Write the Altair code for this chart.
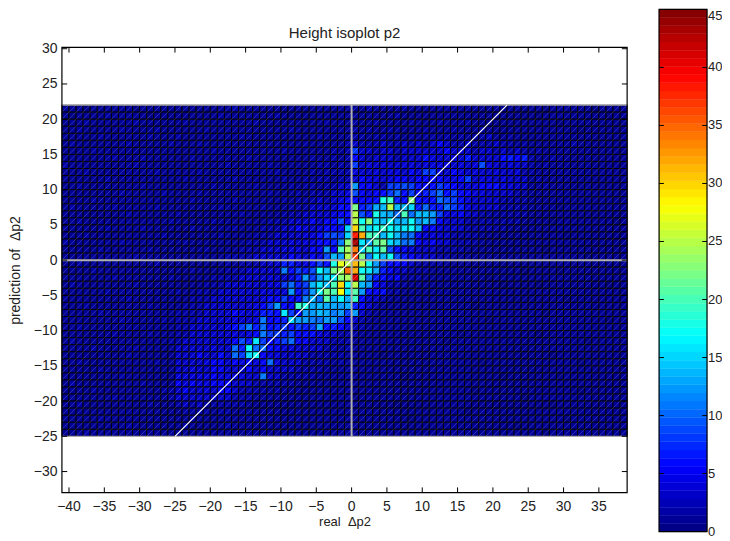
import altair as alt
import pandas as pd
import numpy as np

alt.data_transformers.disable_max_rows()

X_START = -41
Y_TOP = 22
# Cell counts: one row per unit, top (21..22) to bottom (-25..-24),
# one column per unit, from x=-41 to x=38.
VALUES = [
[1,1,1,0,1,1,1,1,1,1,0,1,1,1,1,1, 1,1,1,1,1,1,1,1,2,1,1,1,1,1,1,1,1,1,1,1,1,1,1,1,1, 1,1,2,1,1,1,1,2,1,1,1,1,1,1,1,1,1,1,1,1,1,1,1,1,1, 1,1,0,1,1,1,1,1,1,0,1,1,1,1],
[1,0,1,1,1,1,2,1,1,1,1,1,0,1,1,1, 1,1,1,1,1,1,2,1,1,1,1,1,1,1,2,1,1,1,1,1,1,1,1,1,1, 1,1,1,1,1,1,2,1,1,1,1,1,1,1,1,1,1,1,1,1,1,1,1,1,1, 1,0,1,1,1,1,1,1,1,1,1,0,1,1],
[1,1,1,2,1,1,1,1,1,1,2,1,1,1,1,1, 1,2,1,1,1,1,1,1,1,1,1,2,1,1,1,1,1,1,1,1,1,2,1,1,1, 2,1,1,2,1,1,1,1,2,1,1,1,2,1,1,1,2,1,1,1,1,1,1,1,1, 1,1,1,1,0,1,1,1,1,1,1,1,1,1],
[1,1,2,1,1,1,1,1,2,1,1,1,1,2,1,1, 1,1,1,1,2,1,1,1,1,1,1,1,1,1,1,1,2,1,1,1,1,1,1,1,1, 2,1,2,1,1,2,1,1,1,1,2,1,1,1,2,1,1,1,2,1,1,1,1,1,1, 1,1,1,1,1,1,1,0,1,1,1,1,1,1],
[1,1,1,1,1,2,1,1,1,1,1,1,2,1,1,1, 2,1,1,1,1,1,1,1,1,2,1,1,1,1,1,1,1,1,1,1,2,1,1,1,1, 2,2,1,2,2,1,2,1,2,1,2,2,1,2,1,2,1,2,2,3,1,1,2,1,1, 1,1,1,1,1,1,1,1,1,1,1,1,1,1],
[1,2,1,1,1,1,1,1,1,2,1,1,1,1,1,2, 1,1,1,2,1,1,1,1,1,1,1,1,1,1,1,1,1,1,2,1,1,1,1,1,2, 3,2,2,2,3,2,2,3,2,3,2,3,5,3,2,2,3,2,2,2,3,2,2,1,2, 1,1,1,1,1,1,2,1,1,1,1,1,1,1],
[1,1,1,1,2,1,1,1,1,1,1,1,1,1,1,1, 1,1,1,1,1,2,1,1,1,1,1,1,1,1,1,2,1,1,1,1,1,1,2,1,2, 8,3,3,2,3,3,2,3,3,3,3,3,3,5,3,3,3,2,3,3,2,3,2,3,2, 1,2,1,1,1,1,1,1,1,1,1,1,1,1],
[1,1,1,1,1,1,1,2,1,1,1,2,1,1,1,1, 1,1,2,1,1,1,1,1,1,1,2,1,1,1,1,1,1,1,1,2,1,1,2,1,2, 5,3,2,3,3,3,2,3,3,3,6,4,3,3,4,3,7,3,3,3,3,6,7,5,7, 2,1,1,2,1,1,1,1,1,1,1,1,1,1],
[2,1,1,1,1,1,1,1,1,1,2,1,1,1,1,1, 1,1,1,1,1,1,1,2,1,1,1,1,1,2,1,1,1,1,1,1,2,2,1,2,1, 8,3,4,3,4,3,3,4,4,3,4,4,4,4,3,4,3,4,9,4,3,3,4,3,3, 2,1,2,1,1,1,1,1,1,1,1,1,1,1],
[1,1,1,2,1,1,1,1,1,1,1,1,1,2,1,1, 1,1,1,2,1,1,1,1,1,1,1,1,1,1,2,1,1,1,1,2,1,2,2,2,2, 4,3,3,4,3,4,4,3,5,4,8,8,4,3,5,4,3,4,3,3,4,3,3,4,2, 2,1,1,1,1,1,1,1,1,1,1,1,1,1],
[1,1,1,1,1,1,2,1,1,1,1,1,1,1,1,1, 1,2,1,1,1,1,1,1,2,1,1,1,1,1,1,2,1,1,2,1,2,2,1,2,2, 3,5,4,4,3,4,5,5,4,5,5,6,5,4,4,5,8,3,4,4,3,4,3,3,3, 1,2,1,1,1,1,1,1,1,1,1,1,1,1],
[1,1,2,1,1,1,1,1,1,1,1,2,1,1,1,1, 1,1,1,1,1,2,1,1,1,1,1,2,1,1,1,1,2,1,2,2,1,2,2,3,3, 12,5,5,3,2,8,8,9,8,6,5,6,8,7,5,4,4,4,5,5,6,4,4,3,3, 1,1,2,1,1,1,1,1,1,1,1,1,1,1],
[1,1,1,1,1,1,1,1,2,1,1,1,1,1,2,1, 1,1,1,2,1,1,1,1,1,1,1,1,1,2,1,1,1,2,1,2,2,2,3,3,4, 9,5,4,5,6,8,10,6,8,6,7,8,10,6,8,5,5,4,4,3,3,3,3,2,2, 1,1,1,1,1,1,1,1,1,1,1,1,1,1],
[1,1,1,1,2,1,1,1,1,1,1,1,1,1,1,1, 1,1,2,1,1,1,1,1,2,1,1,1,1,1,1,2,1,2,2,2,3,2,3,4,5, 5,5,5,6,18,19,7,6,23,6,5,6,10,9,8,6,4,3,3,3,3,2,2,2,2, 1,1,1,1,1,1,1,1,1,1,1,1,1,1],
[1,2,1,1,1,1,1,2,1,1,1,1,1,2,1,1, 1,1,1,1,1,1,2,1,1,1,1,1,2,1,1,1,2,2,2,3,3,3,3,6,5, 22,7,8,13,14,25,14,14,15,7,10,7,7,10,8,7,4,3,3,3,3,2,2,2,2, 1,1,1,1,0,1,1,1,1,1,1,1,1,1],
[1,1,1,1,1,1,1,1,1,2,1,1,1,1,1,1, 2,1,1,1,1,1,1,1,1,2,1,1,1,1,1,2,2,2,3,3,3,3,4,5,6, 25,9,7,18,14,13,10,20,10,14,14,12,8,4,4,5,3,3,2,2,2,2,2,2,2, 1,1,1,1,1,1,1,1,1,1,1,1,1,1],
[1,1,2,1,1,1,1,1,1,1,1,1,1,1,1,2, 1,1,1,1,1,2,1,1,1,1,1,1,1,2,2,2,3,3,3,5,3,5,6,9,5, 25,17,23,15,14,17,13,14,17,12,14,11,5,3,3,3,2,2,2,2,2,2,2,2,1, 1,1,1,0,1,1,1,1,1,1,1,1,0,1],
[1,1,1,1,1,1,2,1,1,1,1,2,1,1,1,1, 1,1,2,1,1,1,1,1,2,1,1,1,2,2,2,3,3,5,4,3,4,6,5,6,15, 30,20,15,17,19,17,15,16,17,14,5,6,4,3,3,3,2,2,2,2,2,2,1,1,1, 1,1,1,1,1,1,1,1,1,1,1,1,1,1],
[1,1,1,2,1,1,1,1,1,1,1,1,1,1,2,1, 1,1,1,1,1,1,2,1,1,1,1,2,2,2,3,3,3,3,4,4,6,8,9,8,15, 38,32,20,19,14,17,14,11,10,5,4,4,3,3,2,2,2,2,1,1,1,1,1,1,1, 1,1,1,1,1,0,1,1,1,1,1,1,1,1],
[2,1,1,1,1,1,1,1,2,1,1,1,1,1,1,1, 1,2,1,1,1,1,1,1,1,1,2,2,2,3,3,3,4,3,4,4,6,6,7,11,23, 43,16,13,21,22,15,14,10,11,5,4,5,3,3,2,2,2,2,1,1,1,1,1,1,1, 1,1,1,1,1,1,1,1,1,1,1,1,1,1],
[1,1,1,1,1,2,1,1,1,1,1,1,2,1,1,1, 1,1,1,1,2,1,1,1,1,2,2,2,3,3,3,4,4,4,3,5,5,12,5,20,24, 34,15,20,16,21,9,6,5,4,3,3,3,2,2,2,2,1,1,1,1,1,1,1,1,1, 1,1,0,1,1,1,1,1,1,1,1,1,1,1],
[1,1,1,1,1,1,1,1,1,1,2,1,1,1,1,1, 1,1,1,1,1,1,1,2,2,2,2,3,3,3,3,3,5,4,3,5,4,9,14,12,25, 37,22,11,17,14,17,9,7,5,4,3,3,2,2,1,1,1,1,1,1,1,1,1,1,1, 1,1,1,1,1,1,1,1,0,1,1,1,1,1],
[1,1,2,1,1,1,1,1,1,1,1,1,1,2,1,1, 1,1,1,1,1,1,1,2,1,2,2,2,3,3,3,7,7,4,4,6,8,6,18,27,25, 31,25,17,12,8,6,6,5,3,2,2,2,2,1,1,1,1,1,1,1,1,1,1,1,1, 1,1,1,1,1,1,1,1,1,1,1,1,1,1],
[1,1,1,1,2,1,1,1,1,1,1,1,1,1,1,1, 1,1,2,1,1,1,1,2,2,2,3,3,3,3,3,11,6,8,7,9,17,14,22,24,35, 32,17,16,13,7,5,3,3,2,2,2,1,1,1,1,1,1,1,1,1,1,1,1,1,0, 1,1,1,1,0,1,1,1,1,1,1,1,1,1],
[1,1,1,1,1,1,1,2,1,1,1,1,1,1,1,2, 1,1,1,1,1,2,2,2,2,3,3,3,3,4,3,3,4,7,12,8,12,15,16,23,24, 41,21,11,7,6,4,5,2,2,2,1,1,1,1,1,1,1,1,1,0,1,1,1,1,1, 1,1,1,1,1,1,1,1,1,1,1,1,1,1],
[1,2,1,1,1,1,1,1,1,1,2,1,1,1,1,1, 1,1,1,1,2,2,2,3,3,3,3,3,3,4,4,8,10,7,8,14,16,14,20,30,17, 25,14,12,5,4,2,2,2,1,1,1,1,1,1,1,1,1,1,1,1,1,0,1,1,1, 1,0,1,1,1,1,1,1,1,1,1,0,1,1],
[1,1,1,1,1,1,2,1,1,1,1,1,1,1,1,1, 2,1,1,2,2,2,3,3,3,3,3,3,4,4,4,4,12,6,8,12,17,22,20,28,16, 21,12,6,5,6,2,2,1,1,1,1,1,1,1,1,1,1,1,1,1,1,1,1,1,1, 1,1,1,1,1,1,1,1,1,1,1,1,1,1],
[1,1,1,1,1,1,1,1,1,2,1,1,1,1,1,1, 1,1,2,2,2,3,3,3,3,3,3,3,4,6,5,8,5,6,11,14,10,21,14,17,13, 19,6,3,3,2,1,1,1,1,1,1,1,1,1,1,1,1,1,1,1,1,1,1,1,1, 1,1,1,1,1,0,1,1,1,1,1,1,1,1],
[1,1,1,2,1,1,1,1,1,1,1,1,2,1,1,1, 1,2,2,2,3,3,3,3,3,3,3,4,5,8,12,6,5,19,18,13,14,13,13,12,13, 7,5,3,2,1,1,1,1,1,1,1,1,1,1,1,1,1,0,1,1,1,1,1,1,1, 1,1,1,1,1,1,1,1,1,1,1,1,1,1],
[1,1,1,1,1,2,1,1,1,1,1,1,1,1,1,1, 2,2,2,2,3,3,3,3,5,4,3,4,7,7,6,16,8,6,12,12,14,13,11,12,8, 12,3,2,1,1,1,1,1,1,1,1,1,1,1,1,1,1,1,1,1,1,1,1,1,1, 1,1,0,1,1,1,1,1,1,1,1,1,1,1],
[1,1,1,1,1,1,1,1,2,1,1,1,1,1,2,1, 2,2,2,3,3,3,3,3,4,3,3,4,11,5,6,7,15,12,12,11,10,12,12,9,5, 3,2,1,1,1,1,1,1,1,1,1,1,1,1,1,1,1,1,1,0,1,1,1,1,1, 1,1,1,1,1,1,1,1,1,1,1,0,1,1],
[1,1,2,1,1,1,1,1,1,1,1,1,1,1,1,1, 2,2,3,3,3,3,3,4,6,8,11,7,10,6,7,8,6,8,7,8,13,6,7,5,3, 2,2,1,1,1,1,1,1,1,1,1,1,1,1,1,1,1,1,1,1,1,1,1,1,1, 1,1,1,1,1,1,1,1,1,1,1,1,1,1],
[1,1,1,1,1,1,1,2,1,1,1,1,2,1,1,1, 2,2,3,3,3,3,3,3,4,3,4,5,11,8,8,7,8,5,6,6,4,3,3,2,2, 2,1,1,1,1,1,1,1,1,1,1,1,1,1,1,0,1,1,1,1,1,1,1,1,1, 1,0,1,1,1,1,1,1,1,1,1,1,1,1],
[1,2,1,1,1,1,1,1,1,1,1,1,1,1,1,2, 2,3,3,3,3,3,3,3,5,9,7,16,8,6,7,8,10,5,5,3,3,3,2,2,2, 1,1,1,1,1,1,1,1,1,1,1,1,1,0,1,1,1,1,1,1,1,1,1,1,1, 1,1,1,1,1,1,1,1,0,1,1,1,1,1],
[1,1,1,1,2,1,1,1,1,1,2,1,1,1,1,1, 3,3,3,3,3,4,3,3,10,7,17,10,10,6,5,4,4,3,3,3,3,2,2,1,2, 1,1,1,1,1,1,1,1,1,1,1,1,1,1,1,1,1,1,1,1,1,1,1,1,1, 1,1,1,1,1,1,1,1,1,1,1,1,1,1],
[1,1,1,1,1,1,1,1,1,2,1,1,1,1,1,1, 3,3,3,5,3,3,6,3,10,8,15,17,5,4,4,3,3,3,3,2,2,2,2,2,1, 1,1,1,1,0,1,1,1,1,1,1,1,1,1,1,1,1,1,1,1,1,1,1,1,1, 1,1,1,0,1,1,1,1,1,1,1,1,1,1],
[1,1,2,1,1,1,1,1,1,1,1,1,1,2,1,1, 3,3,3,3,4,5,5,3,5,4,6,4,5,10,4,3,3,3,2,2,2,2,1,2,1, 1,1,1,1,1,1,1,1,1,1,1,1,1,1,1,1,1,1,0,1,1,1,1,1,1, 1,1,1,1,1,1,1,0,1,1,1,1,1,1],
[1,1,1,1,1,2,1,1,1,1,1,1,1,1,1,1, 3,3,4,3,3,5,5,3,3,3,5,3,5,3,3,3,3,2,2,2,2,1,1,1,1, 1,1,1,1,1,1,1,1,1,1,1,1,1,1,1,1,1,1,1,1,1,1,1,1,1, 1,1,1,1,1,1,1,1,1,1,1,1,1,1],
[1,1,1,1,1,1,1,1,2,1,1,1,1,1,1,1, 4,4,4,4,4,5,4,4,4,4,3,3,11,3,3,2,2,2,2,2,1,1,1,1,1, 1,1,1,1,1,1,1,0,1,1,1,1,1,1,1,1,1,1,1,1,1,0,1,1,1, 1,1,1,1,0,1,1,1,1,1,1,1,1,1],
[1,2,1,1,1,1,1,1,1,1,1,2,1,1,1,1, 5,4,5,4,4,5,5,5,3,3,3,2,2,2,2,2,2,1,1,1,1,1,1,1,1, 1,1,1,1,1,1,1,1,1,1,1,1,1,1,1,1,1,1,1,1,1,1,1,1,1, 1,1,1,1,1,1,1,1,1,1,1,1,1,1],
[1,1,1,1,2,1,1,1,1,1,1,1,1,1,2,2, 3,5,3,3,4,3,5,5,3,2,2,2,2,1,2,1,1,1,1,1,1,1,1,1,1, 1,1,1,1,1,1,1,1,1,1,1,1,1,1,1,1,1,0,1,1,1,1,1,1,1, 1,1,1,1,1,1,1,0,1,1,1,1,1,1],
[1,1,1,1,1,1,1,2,1,1,1,1,1,1,1,2, 3,3,3,3,3,3,3,3,2,2,2,1,1,1,1,1,1,1,1,1,1,1,1,1,1, 0,1,1,1,1,1,1,1,1,1,1,1,1,1,1,1,1,1,1,1,1,1,1,1,0, 1,1,1,1,1,1,1,1,1,1,1,1,1,1],
[1,1,2,1,1,1,1,1,1,1,1,1,2,1,1,1, 2,3,2,3,2,2,2,2,2,2,1,1,1,1,1,1,1,1,1,1,1,1,1,1,1, 1,1,1,1,1,1,0,1,1,1,1,1,1,1,1,1,1,1,1,1,1,1,1,1,1, 1,1,1,0,1,1,1,1,1,1,1,1,1,1],
[1,1,1,1,1,1,1,1,1,1,1,1,1,1,1,1, 1,2,2,2,2,1,2,2,1,1,1,1,1,1,1,1,1,1,1,1,1,1,1,1,1, 1,1,1,1,1,1,1,1,1,1,1,1,1,1,1,1,0,1,1,1,1,1,1,1,1, 1,1,1,1,1,1,1,1,1,1,1,1,1,1],
[1,1,1,1,1,2,1,1,1,1,1,1,1,1,1,1, 1,1,2,1,1,1,1,1,1,1,1,1,1,1,1,1,1,1,1,1,1,1,1,1,1, 1,1,1,1,1,1,1,1,0,1,1,1,1,1,1,1,1,1,1,1,1,1,1,1,1, 1,1,1,1,1,0,1,1,1,1,1,1,1,1],
[1,1,1,1,1,1,1,1,1,2,1,1,1,1,1,1, 1,2,1,1,1,1,1,2,1,1,1,1,1,1,1,1,1,1,1,1,1,1,1,1,1, 1,1,1,1,1,1,1,1,1,1,1,1,1,1,1,1,1,1,1,1,1,1,1,0,1, 1,1,1,1,1,1,1,1,1,1,1,1,1,1],
[1,1,1,2,1,1,1,1,1,1,1,1,1,1,1,1, 1,1,1,1,1,1,1,1,1,1,1,1,1,1,1,1,1,1,1,1,1,1,1,1,1, 1,1,1,1,1,1,1,1,1,1,1,1,1,1,1,1,1,1,1,1,1,1,1,1,1, 1,1,0,1,1,1,1,1,1,1,1,1,1,1],
]

X_TICKS = [-40, -35, -30, -25, -20, -15, -10, -5, 0, 5, 10, 15, 20, 25, 30, 35]
Y_TICKS = [-30, -25, -20, -15, -10, -5, 0, 5, 10, 15, 20, 25, 30]
CB_TICKS = [0, 5, 10, 15, 20, 25, 30, 35, 40, 45]

X_DOMAIN = [-41, 39]
Y_DOMAIN = [-33, 30.2]
CB_MAX = 45
N_LEVELS = 64
FONT = "Liberation Sans"
TEXT = "#222222"


def jet(n):
    out = []
    for k in range(n):
        t = (k + 0.5) / n
        r = np.clip(min(4 * t - 1.5, -4 * t + 4.5), 0, 1)
        g = np.clip(min(4 * t - 0.5, -4 * t + 3.5), 0, 1)
        b = np.clip(min(4 * t + 0.5, -4 * t + 2.5), 0, 1)
        out.append("#%02x%02x%02x" % (int(r * 255), int(g * 255), int(b * 255)))
    return out


JET = jet(N_LEVELS)
color_scale = alt.Scale(type="quantize", domain=[0, CB_MAX], range=JET)

rows = []
for r, row in enumerate(VALUES):
    for c, v in enumerate(row):
        rows.append(dict(x=X_START + c, x2=X_START + c + 1, y=Y_TOP - r - 1, y2=Y_TOP - r, v=v))
cells = pd.DataFrame(rows)

PH = 531       # shared panel height
y_main = alt.Scale(domain=Y_DOMAIN, range=[485, 39], nice=False, zero=False)
x_main = alt.Scale(domain=X_DOMAIN, nice=False, zero=False)

X = alt.X("x:Q", scale=x_main, axis=alt.Axis(
    values=X_TICKS, title="real \u00a0\u0394p2", domain=False, ticks=False, grid=False, labels=False,
    offset=-(PH - 485), titlePadding=23, titleFont=FONT,
    titleFontSize=13, titleFontWeight="normal", titleColor=TEXT))
Y = alt.Y("y:Q", scale=y_main, axis=alt.Axis(
    values=Y_TICKS, title="prediction of \u00a0\u0394p2", domain=False, ticks=False, grid=False,
    labelPadding=5, titlePadding=11, labelFont=FONT, titleFont=FONT,
    labelFontSize=14, titleFontSize=14, titleFontWeight="normal",
    labelColor=TEXT, titleColor=TEXT, labelOverlap=False))

heat = alt.Chart(cells).mark_rect(stroke="#000000", strokeWidth=0.9).encode(
    x=X, x2="x2:Q", y=Y, y2="y2:Q",
    color=alt.Color("v:Q", scale=color_scale, legend=None))
hatch = alt.Chart(cells).mark_rule(color="#ffffff", opacity=0.28, strokeWidth=0.7).encode(
    x="x:Q", x2="x2:Q", y="y:Q", y2="y2:Q")


def seg(records):
    return pd.DataFrame(records, columns=["x", "x2", "y", "y2"])


gray = alt.Chart(seg([
    (0, 0, -25, 22), (-41, 39, 0, 0)
])).mark_rule(color="#b0b0b0", strokeWidth=2).encode(x="x:Q", x2="x2:Q", y="y:Q", y2="y2:Q")
edge = alt.Chart(seg([
    (-41, 39, 22, 22), (-41, 39, -25, -25)
])).mark_rule(color="#c8c8c8", strokeWidth=1).encode(x="x:Q", x2="x2:Q", y="y:Q", y2="y2:Q")
diag = alt.Chart(seg([(-25, 22, -25, 22)])).mark_rule(color="#ffffff", strokeWidth=1.2).encode(
    x="x:Q", x2="x2:Q", y="y:Q", y2="y2:Q")

T = 0.75
tick_rows = []
for t in X_TICKS:
    tick_rows += [(t, t, Y_DOMAIN[0], Y_DOMAIN[0] + T), (t, t, Y_DOMAIN[1] - T, Y_DOMAIN[1])]
for t in Y_TICKS:
    tick_rows += [(X_DOMAIN[0], X_DOMAIN[0] + T, t, t), (X_DOMAIN[1] - T, X_DOMAIN[1], t, t)]
ticks = alt.Chart(seg(tick_rows)).mark_rule(color="#000000", strokeWidth=1).encode(
    x="x:Q", x2="x2:Q", y="y:Q", y2="y2:Q")
box = alt.Chart(seg([(X_DOMAIN[0], X_DOMAIN[1], Y_DOMAIN[0], Y_DOMAIN[1])])).mark_rect(
    fill=None, stroke="#000000", strokeWidth=1.2).encode(
    x="x:Q", x2="x2:Q", y="y:Q", y2="y2:Q")
x_labels = alt.Chart(pd.DataFrame({
    "x": X_TICKS, "y": Y_DOMAIN[0],
    "t": [str(t).replace("-", "\u2212") for t in X_TICKS]
})).mark_text(font=FONT, fontSize=14, color=TEXT, baseline="middle", align="center", dy=14).encode(
    x="x:Q", y="y:Q", text="t:N")
title = alt.Chart(pd.DataFrame({"x": [-1], "y": [32.3], "t": ["Height isoplot p2"]})).mark_text(
    font=FONT, fontSize=15, color=TEXT, baseline="middle", align="center").encode(
    x="x:Q", y="y:Q", text="t:N")

main = alt.layer(heat, hatch, gray, edge, diag, ticks, box, x_labels, title).properties(width=566, height=PH)

# colour bar
edges = np.linspace(0, CB_MAX, N_LEVELS + 1)
bands = pd.DataFrame({"x": 0, "x2": 1, "y": edges[:-1], "y2": edges[1:],
                      "v": (edges[:-1] + edges[1:]) / 2})
cb_x = alt.Scale(domain=[0, 1], range=[0, 48], nice=False, zero=False)
cb_y = alt.Scale(domain=[0, CB_MAX], range=[524, 1], nice=False, zero=False)
cb_rect = alt.Chart(bands).mark_rect(strokeWidth=0.4).encode(
    x=alt.X("x:Q", scale=cb_x, axis=None), x2="x2:Q",
    y=alt.Y("y:Q", scale=cb_y, axis=None),
    y2="y2:Q",
    color=alt.Color("v:Q", scale=color_scale, legend=None),
    stroke=alt.Stroke("v:Q", scale=color_scale, legend=None))
cb_labels = alt.Chart(pd.DataFrame({"x": 1, "y": CB_TICKS[:-1], "t": [str(t) for t in CB_TICKS[:-1]]})).mark_text(
    font=FONT, fontSize=13, color=TEXT, baseline="middle", align="left", dx=1, clip=True).encode(
    x="x:Q", y="y:Q", text="t:N")
cb_top = alt.Chart(pd.DataFrame({"x": [1], "y": [CB_TICKS[-1]], "t": [str(CB_TICKS[-1])]})).mark_text(
    font=FONT, fontSize=13, color=TEXT, baseline="middle", align="left", dx=1, dy=6.5, clip=True).encode(
    x="x:Q", y="y:Q", text="t:N")
cb_t = []
for t in CB_TICKS[1:-1]:
    cb_t += [(0, 0.1, t, t), (0.9, 1, t, t)]
cb_ticks = alt.Chart(seg(cb_t)).mark_rule(color="#000000", strokeWidth=1).encode(
    x="x:Q", x2="x2:Q", y="y:Q", y2="y2:Q")
cb_box = alt.Chart(seg([(0, 1, 0, CB_MAX)])).mark_rect(
    fill=None, stroke="#000000", strokeWidth=1.2).encode(
    x="x:Q", x2="x2:Q", y="y:Q", y2="y2:Q")
colorbar = alt.layer(cb_rect, cb_ticks, cb_box, cb_labels, cb_top).properties(width=63, height=PH)

chart = alt.hconcat(main, colorbar, spacing=30).resolve_scale(
    color="independent", stroke="independent"
).properties(padding=0).configure_view(stroke=None)

chart.save("out.html", embed_options={"renderer": "svg", "actions": False})
